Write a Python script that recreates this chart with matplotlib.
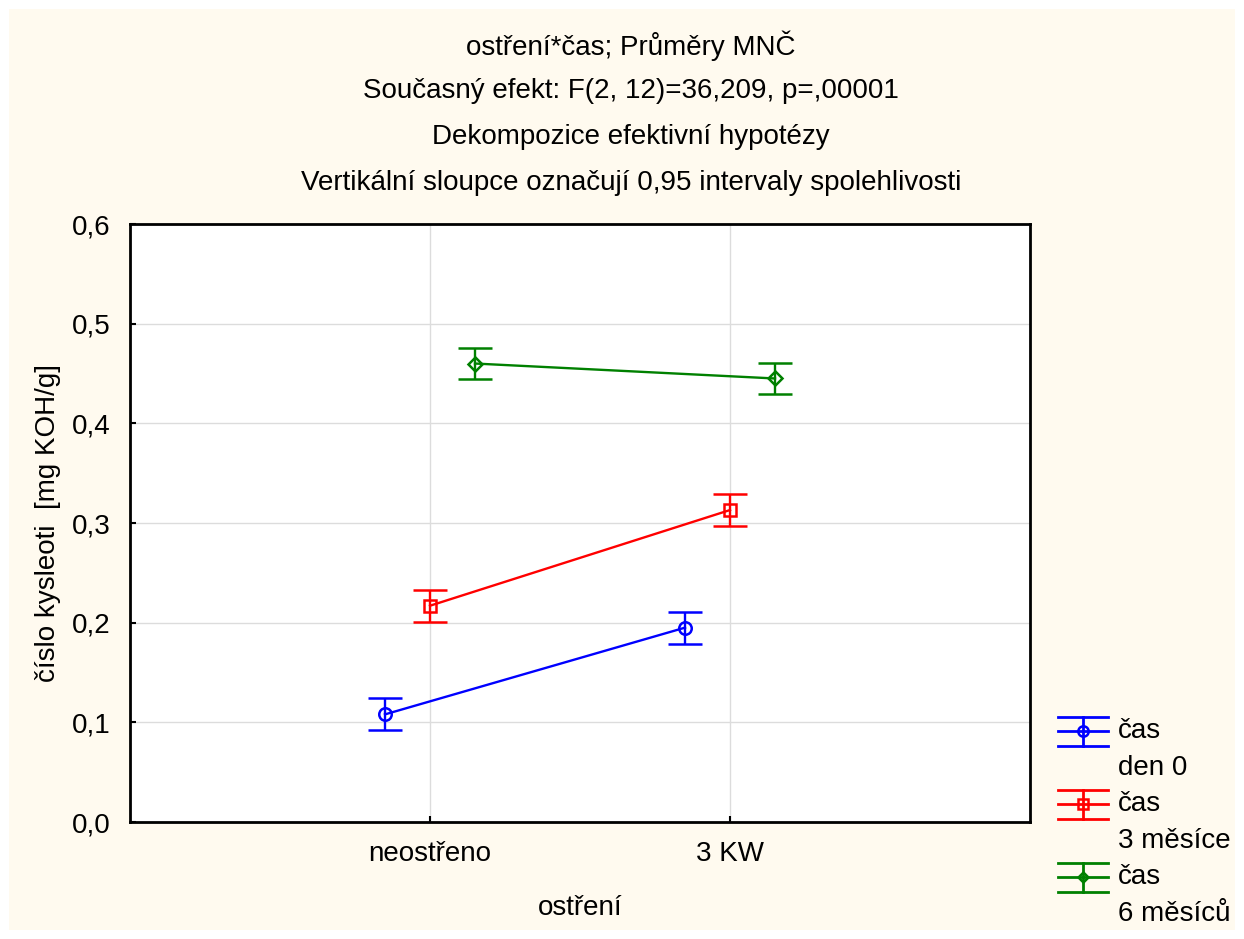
import matplotlib
matplotlib.use("Agg")
import matplotlib.pyplot as plt
from matplotlib.patches import Rectangle
from matplotlib.lines import Line2D
import numpy as np

plt.rcParams['font.family'] = ['Liberation Sans', 'DejaVu Sans']

categories = ["neostřeno", "3 KW"]
series_names = ["čas\nden 0", "čas\n3 měsíce", "čas\n6 měsíců"]
means_den0 = [0.108, 0.195]
means_3m = [0.217, 0.313]
means_6m = [0.460, 0.445]
ci_den0 = [0.016, 0.016]
ci_3m = [0.016, 0.016]
ci_6m = [0.016, 0.016]
yticks = [0.0, 0.1, 0.2, 0.3, 0.4, 0.5, 0.6]
ytick_labels = ["0,0", "0,1", "0,2", "0,3", "0,4", "0,5", "0,6"]

W, H = 1244, 939
fig = plt.figure(figsize=(W / 100, H / 100), dpi=100)
fig.patch.set_facecolor('white')
fig.patches.append(Rectangle((9 / W, 9 / H), (W - 18) / W, (H - 18) / H,
                             transform=fig.transFigure, facecolor='#FFFAEF',
                             edgecolor='none', zorder=-10))

def fx(px):
    return px / W

def fy(py):
    return 1 - py / H

ax = fig.add_axes([fx(130), fy(822), 900 / W, 598 / H])
ax.set_facecolor('white')

colors = ['#0000FF', '#FF0000', '#008000']
markers = ['o', 's', 'D']
msizes = [9, 8.5, 7]
offsets = [-0.15, 0.0, 0.15]
series = [(means_den0, ci_den0), (means_3m, ci_3m), (means_6m, ci_6m)]
x = np.arange(len(categories))

for (m, ci), c, mk, ms, off in zip(series, colors, markers, msizes, offsets):
    ax.errorbar(x + off, m, yerr=ci, color=c, lw=1.7, marker=mk, ms=ms,
                mfc='none', mec=c, mew=1.8, capsize=12.5, capthick=1.7,
                elinewidth=1.7, zorder=3)

ax.set_xlim(-1, 2)
ax.set_ylim(0, 0.6)
ax.set_xticks(x)
ax.set_xticklabels(categories, fontsize=20)
ax.set_yticks(yticks)
ax.set_yticklabels(ytick_labels, fontsize=20)
ax.tick_params(direction='in', length=4, width=1.5)
ax.tick_params(axis='x', pad=14)
ax.tick_params(axis='y', pad=14)
ax.grid(True, color='#DCDCDC', lw=1)
ax.set_axisbelow(True)
for s in ax.spines.values():
    s.set_linewidth(2)
ax.set_xlabel("ostření", fontsize=20, labelpad=20)
ax.set_ylabel("číslo kysleoti  [mg KOH/g]", fontsize=20)
ax.yaxis.set_label_coords((61 - 130) / 900, 0.5)

titles = ["ostření*čas; Průměry MNČ",
          "Současný efekt: F(2, 12)=36,209, p=,00001",
          "Dekompozice efektivní hypotézy",
          "Vertikální sloupce označují 0,95 intervaly spolehlivosti"]
for i, t in enumerate(titles):
    fig.text(fx(631), fy(46 + i * 45.5), t, ha='center', va='center', fontsize=20)

# Manual legend
row_y = [731, 804, 877]
for (name, c, mk, ms, cy) in zip(series_names, colors, markers, msizes, row_y):
    for dy in (-14.5, 0, 14.5):
        fig.add_artist(Line2D([fx(1058), fx(1108)], [fy(cy + dy), fy(cy + dy)],
                              color=c, lw=2, transform=fig.transFigure))
    fig.add_artist(Line2D([fx(1083), fx(1083)], [fy(cy - 14.5), fy(cy + 14.5)],
                          color=c, lw=2, transform=fig.transFigure))
    fig.add_artist(Line2D([fx(1083)], [fy(cy)], marker=mk, ms=ms - 1.5,
                          mfc='none', mec=c, mew=1.8, transform=fig.transFigure))
    line1, line2 = name.split("\n")
    fig.text(fx(1118), fy(cy), line1, ha='left', va='center', fontsize=20)
    fig.text(fx(1118), fy(cy + 37), line2, ha='left', va='center', fontsize=20)

fig.savefig("out.png", dpi=100, facecolor=fig.get_facecolor())
